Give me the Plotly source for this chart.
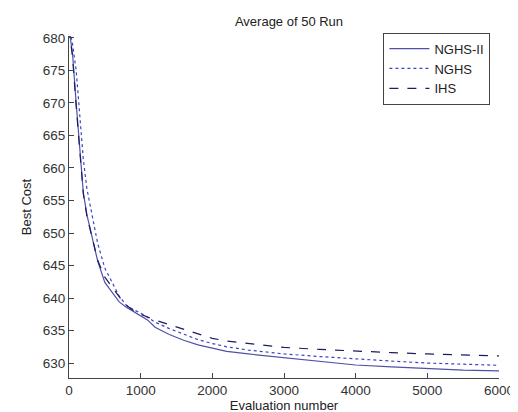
import plotly.graph_objects as go

evals = [0, 50, 100, 150, 200, 250, 300, 400, 500, 600, 700, 800, 900, 1000, 1100, 1200,
         1400, 1600, 1800, 2000, 2200, 2500, 3000, 3500, 4000, 4500, 5000, 5500, 6000]

nghs2 = [681.5, 677.5, 670.0, 662.3, 656.2, 652.8, 650.3, 645.7, 642.4, 640.8, 639.4, 638.6, 637.9,
         637.3, 636.6, 635.5, 634.4, 633.5, 632.8, 632.3, 631.8, 631.4, 630.8, 630.2, 629.7,
         629.4, 629.1, 628.9, 628.8]

nghs = [682.0, 679.0, 675.0, 667.5, 661.3, 656.8, 653.8, 648.4, 644.6, 642.5, 640.3, 638.9, 638.2,
        637.7, 637.0, 636.3, 635.3, 634.5, 633.6, 633.0, 632.5, 632.0, 631.4, 631.0, 630.6,
        630.3, 630.0, 629.8, 629.65]

ihs = [681.5, 677.0, 669.5, 662.0, 656.0, 652.6, 650.2, 645.8, 643.2, 641.6, 640.2, 638.9, 638.1,
       637.5, 637.0, 636.6, 635.9, 635.2, 634.4, 633.8, 633.4, 633.0, 632.4, 632.1, 631.8,
       631.6, 631.4, 631.2, 631.1]

series = [
    ("NGHS-II", nghs2, "solid", "#5050a8"),
    ("NGHS", nghs, "dot", "#3a46c0"),
    ("IHS", ihs, "dash", "#1c1c60"),
]

fig = go.Figure()
for name, vals, dash, color in series:
    fig.add_trace(go.Scatter(x=evals, y=vals, mode="lines", name=name,
                             line=dict(color=color, width=1.2, dash=dash)))

FAM = "Liberation Sans, Arial, sans-serif"
axis_font = dict(family=FAM, size=13.5, color="#333333")

fig.update_layout(
    width=518, height=412,
    margin=dict(l=61, r=16, t=28, b=37),
    paper_bgcolor="white", plot_bgcolor="white",
    title=dict(text="Average of 50 Run", x=(61 + 220) / 518, xanchor="center",
               y=1 - 13 / 412, yanchor="middle",
               font=dict(family=FAM, size=13, color="#222222")),
    font=axis_font,
    showlegend=True,
    legend=dict(x=0.98, y=1.01, xanchor="right", yanchor="top",
                bgcolor="white", bordercolor="#444444", borderwidth=1,
                font=dict(family=FAM, size=13, color="#222222"),
                tracegroupgap=0, itemwidth=40),
)

fig.update_xaxes(range=[0, 6000], tickvals=[0, 1000, 2000, 3000, 4000, 5000, 6000],
                 showgrid=False, zeroline=False, showline=True, linecolor="#444444",
                 ticks="inside", ticklen=5, tickcolor="#444444",
                 tickfont=dict(family=FAM, size=13.5, color="#333333"),
                 title=dict(text="Evaluation number", standoff=1,
                            font=dict(family=FAM, size=13, color="#222222")))
fig.update_yaxes(range=[627.7, 680.3], tickvals=list(range(630, 681, 5)),
                 showgrid=False, zeroline=False, showline=True, linecolor="#444444",
                 ticks="inside", ticklen=5, tickcolor="#444444",
                 tickfont=dict(family=FAM, size=13.5, color="#333333"),
                 title=dict(text="Best Cost", standoff=8,
                            font=dict(family=FAM, size=13, color="#222222")))

fig.write_html("out.html")
